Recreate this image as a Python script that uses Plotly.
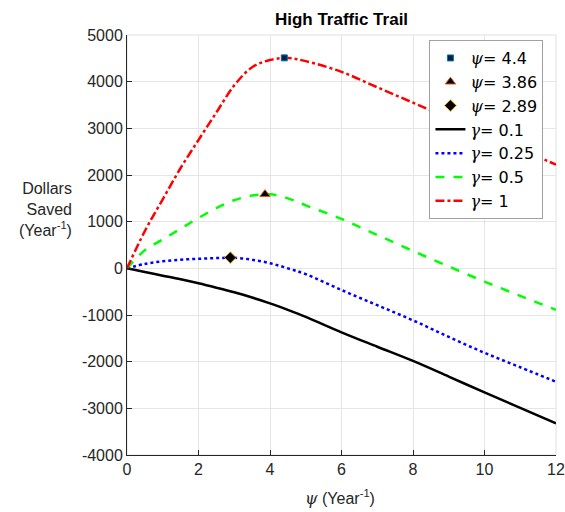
import plotly.graph_objects as go

# Data
x_vals = [0, 0.5, 1, 1.5, 2, 2.5, 3, 3.5, 4, 4.5, 5, 6, 7, 8, 9, 10, 11, 12]

black_g01 = [0, -80, -157, -235, -321, -415, -514, -625, -750, -890, -1040, -1371, -1680, -1985, -2320, -2660, -2990, -3320]
blue_g025 = [0, 95, 150, 185, 205, 220, 225, 185, 110, 0, -125, -465, -790, -1115, -1470, -1810, -2120, -2430]
green_g05 = [0, 390, 620, 850, 1080, 1290, 1460, 1560, 1585, 1500, 1350, 1058, 715, 372, 40, -285, -590, -890]
red_g1 = [0, 800, 1480, 2150, 2750, 3340, 3920, 4310, 4465, 4505, 4440, 4210, 3880, 3550, 3220, 2890, 2560, 2220]

# Optimum markers
psi_opt = [4.4, 3.86, 2.89]
psi_val = [4510, 1590, 230]
psi_names = ["4.4", "3.86", "2.89"]

gamma_names = ["0.1", "0.25", "0.5", "1"]

x_ticks = [0, 2, 4, 6, 8, 10, 12]
y_ticks = [-4000, -3000, -2000, -1000, 0, 1000, 2000, 3000, 4000, 5000]
y_tick_text = [str(v) for v in y_ticks]

PSI = '<span style="font-family:\'DejaVu Serif\'"><i>ψ</i></span>'
GAM = '<span style="font-family:\'DejaVu Serif\'"><i>γ</i></span>'

fig = go.Figure()

series = [black_g01, blue_g025, green_g05, red_g1]
styles = [
    dict(color="black", width=2.5, dash="solid"),
    dict(color="#0000ff", width=2.5, dash="dot"),
    dict(color="#00ff00", width=2.5, dash="dash"),
    dict(color="#ff0000", width=2.5, dash="dashdot"),
]
for k, (s, st, nm) in enumerate(zip(series, styles, gamma_names)):
    fig.add_trace(go.Scatter(
        x=x_vals, y=s, mode="lines", line=dict(shape="spline", smoothing=1.0, **st),
        name=GAM + "= " + nm, legendrank=10 + k,
    ))

marker_styles = [
    dict(symbol="square", size=6, color="#0b1f3a", line=dict(color="#0072BD", width=1)),
    dict(symbol="triangle-up", size=9, color="black", line=dict(color="#D95319", width=1)),
    dict(symbol="diamond", size=9, color="black", line=dict(color="#EDB120", width=1)),
]
for i in range(3):
    fig.add_trace(go.Scatter(
        x=[psi_opt[i]], y=[psi_val[i]], mode="markers",
        marker=marker_styles[i],
        name=PSI + "= " + psi_names[i], legendrank=1 + i,
    ))

fig.update_layout(
    width=565, height=512,
    margin=dict(l=127, r=9, t=35, b=57, autoexpand=False),
    paper_bgcolor="white", plot_bgcolor="white",
    font=dict(family="Liberation Sans, Arial, sans-serif", size=16, color="#262626"),
    title=dict(text="<b>High Traffic Trail</b>", x=0.5, xanchor="center", xref="paper",
               y=1, yref="paper", yanchor="bottom", pad=dict(b=10),
               font=dict(size=17, color="black")),
    showlegend=True,
    legend=dict(
        x=0.705, y=0.988, xanchor="left", yanchor="top",
        bgcolor="white", bordercolor="#a0a0a0", borderwidth=1,
        font=dict(size=16, color="black", family="DejaVu Sans, sans-serif"),
        traceorder="normal", tracegroupgap=0, itemwidth=30,
    ),
    xaxis=dict(
        range=[0, 12], tickvals=x_ticks, ticks="inside", ticklen=5, tickcolor="#262626",
        showline=True, linecolor="#262626", linewidth=1, showgrid=True, gridcolor="#e5e5e5",
        zeroline=False, tickfont=dict(size=16), automargin=False,
    ),
    yaxis=dict(
        range=[-4000, 5000], tickvals=y_ticks, ticktext=y_tick_text, ticks="inside", ticklen=5,
        tickcolor="#262626",
        showline=True, linecolor="#262626", linewidth=1, showgrid=True, gridcolor="#e5e5e5",
        zeroline=False, tickfont=dict(size=16), automargin=False,
    ),
    shapes=[dict(type="rect", xref="paper", yref="paper", x0=0, y0=0, x1=1, y1=1,
                 line=dict(color="#e0e0e0", width=1), layer="below")],
    annotations=[
        dict(text="Dollars<br>Saved<br>(Year<sup>-1</sup>)", xref="paper", yref="paper",
             x=-0.123, y=0.585, xanchor="right", yanchor="middle", align="right",
             showarrow=False, font=dict(size=16, color="#262626")),
        dict(text=PSI + " (Year<sup>-1</sup>)", xref="paper", yref="paper",
             x=0.497, y=-0.1, xanchor="center", yanchor="middle",
             showarrow=False, font=dict(size=16, color="#262626")),
    ],
)

fig.write_html("out.html", config={"displayModeBar": False},
               post_script="document.body.style.margin='0';document.body.style.overflow='hidden';")
